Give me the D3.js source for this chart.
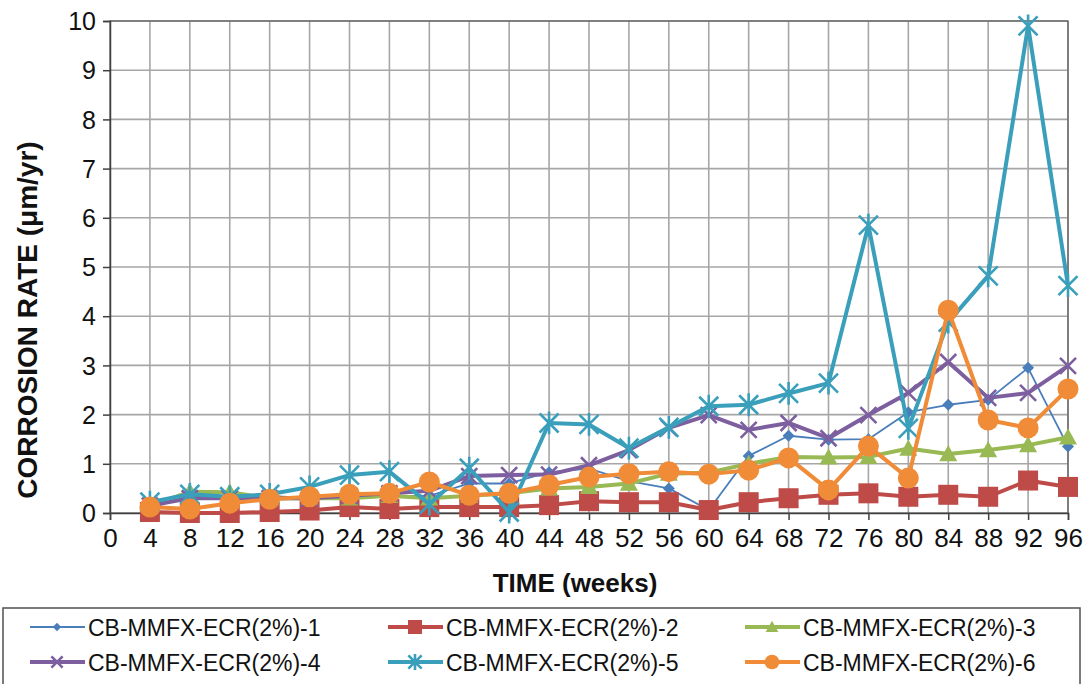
<!DOCTYPE html>
<html><head><meta charset="utf-8">
<script src="https://cdn.jsdelivr.net/npm/d3@7/dist/d3.min.js"></script>
<style>body{margin:0;background:#fff}svg{display:block;font-family:Arial,"Liberation Sans",sans-serif}</style>
</head><body><svg id="c" width="1086" height="684"></svg>
<script>
const weeks = [4,8,12,16,20,24,28,32,36,40,44,48,52,56,60,64,68,72,76,80,84,88,92,96];
const s1 = [0.10,0.35,0.30,0.35,0.30,0.30,0.35,0.35,0.60,0.60,0.83,0.90,0.65,0.50,0.06,1.16,1.57,1.49,1.50,2.05,2.20,2.30,2.95,1.35];
const s2 = [0.02,0.00,0.00,0.02,0.05,0.12,0.08,0.12,0.12,0.12,0.16,0.24,0.22,0.22,0.06,0.22,0.30,0.37,0.40,0.33,0.37,0.33,0.66,0.53];
const s3 = [0.15,0.43,0.42,0.30,0.30,0.30,0.35,0.30,0.35,0.40,0.50,0.53,0.60,0.80,0.82,1.00,1.14,1.13,1.14,1.31,1.20,1.28,1.38,1.54];
const s4 = [0.15,0.30,0.30,0.30,0.30,0.35,0.40,0.45,0.75,0.77,0.78,0.97,1.28,1.73,1.99,1.69,1.83,1.52,1.99,2.44,3.07,2.34,2.44,2.99];
const s5 = [0.22,0.38,0.33,0.38,0.53,0.77,0.84,0.18,0.91,0.02,1.83,1.80,1.32,1.74,2.17,2.20,2.43,2.64,5.85,1.72,3.88,4.82,9.90,4.62];
const s6 = [0.12,0.08,0.20,0.28,0.33,0.38,0.40,0.63,0.36,0.40,0.57,0.73,0.80,0.84,0.79,0.87,1.12,0.47,1.36,0.71,4.12,1.89,1.73,2.52];
const seriesNames = ["CB-MMFX-ECR(2%)-1","CB-MMFX-ECR(2%)-2","CB-MMFX-ECR(2%)-3","CB-MMFX-ECR(2%)-4","CB-MMFX-ECR(2%)-5","CB-MMFX-ECR(2%)-6"];
const xTicks = [0,4,8,12,16,20,24,28,32,36,40,44,48,52,56,60,64,68,72,76,80,84,88,92,96];
const yTicks = [0,1,2,3,4,5,6,7,8,9,10];

const colors = ["#4A7EBB","#BE4B48","#98B954","#7D5FA0","#3A9FBA","#F08B37"];
const widths = [1.8,4,4,4,4,4];
const markers = ["diamond","square","triangle","x","star","circle"];
const data = [s1,s2,s3,s4,s5,s6];

const svg = d3.select("#c");
const L=110,R=1068,T=21,B=513;
const x = d3.scaleLinear().domain([0,96]).range([L,R]);
const y = d3.scaleLinear().domain([0,10]).range([B,T]);

const g = svg.append("g");
g.selectAll(".gx").data(xTicks.slice(1)).enter().append("line")
 .attr("x1",d=>x(d)).attr("x2",d=>x(d)).attr("y1",T).attr("y2",B)
 .attr("stroke","#a6a6a6").attr("stroke-width",1.6);
g.selectAll(".gy").data(yTicks.slice(1)).enter().append("line")
 .attr("x1",L).attr("x2",R).attr("y1",d=>y(d)).attr("y2",d=>y(d))
 .attr("stroke","#a6a6a6").attr("stroke-width",1.6);
svg.append("rect").attr("x",L).attr("y",T).attr("width",R-L).attr("height",B-T)
 .attr("fill","none").attr("stroke","#595959").attr("stroke-width",1.2);

const yAxis = svg.append("g").attr("transform",`translate(${L},0)`)
 .call(d3.axisLeft(y).tickValues(yTicks).tickSize(7).tickPadding(7));
const xAxis = svg.append("g").attr("transform",`translate(0,${B})`)
 .call(d3.axisBottom(x).tickValues(xTicks).tickSize(7).tickPadding(7));
[yAxis,xAxis].forEach(a=>{
  a.selectAll("path,line").attr("stroke","#404040").attr("stroke-width",1.5);
  a.selectAll("text").attr("font-size",25).attr("fill","#111").attr("font-family","Arial,'Liberation Sans',sans-serif");
});
xAxis.selectAll("text").attr("dy","0.78em").attr("font-size",26);
yAxis.selectAll("text").attr("dy","0.35em");

svg.append("text").attr("x",575).attr("y",592).attr("text-anchor","middle")
 .attr("font-size",26).attr("font-weight","bold").attr("fill","#111").text("TIME (weeks)");
svg.append("text").attr("transform",`translate(37,320) rotate(-90)`).attr("text-anchor","middle")
 .attr("font-size",28).attr("font-weight","bold").attr("fill","#111").text("CORROSION RATE (μm/yr)");

function drawMarker(sel, type, color, s){
  if(type==="diamond") sel.append("path").attr("d",`M0,${-s}L${s},0L0,${s}L${-s},0Z`).attr("fill",color);
  else if(type==="square") sel.append("rect").attr("x",-s).attr("y",-s).attr("width",2*s).attr("height",2*s).attr("fill",color);
  else if(type==="triangle") sel.append("path").attr("d",`M0,${-s}L${s},${s*0.8}L${-s},${s*0.8}Z`).attr("fill",color);
  else if(type==="circle") sel.append("circle").attr("r",s).attr("fill",color);
  else if(type==="x") sel.append("path").attr("d",`M${-s},${-s}L${s},${s}M${-s},${s}L${s},${-s}`).attr("stroke",color).attr("stroke-width",2.6).attr("fill","none");
  else if(type==="star") sel.append("path").attr("d",`M${-s},${-s}L${s},${s}M${-s},${s}L${s},${-s}M0,${-s*1.2}L0,${s*1.2}`).attr("stroke",color).attr("stroke-width",2.6).attr("fill","none");
}
const msize = [6,10,9,8,9.5,10.5];

const line = d3.line().x((d,i)=>x(weeks[i])).y(d=>y(d));
data.forEach((vals,k)=>{
  svg.append("path").datum(vals).attr("d",line).attr("fill","none")
    .attr("stroke",colors[k]).attr("stroke-width",widths[k]).attr("stroke-linejoin","round");
  vals.forEach((v,i)=>{
    const m = svg.append("g").attr("transform",`translate(${x(weeks[i])},${y(v)})`);
    drawMarker(m,markers[k],colors[k],msize[k]);
  });
});

svg.append("rect").attr("x",3).attr("y",608).attr("width",1077).attr("height",90)
 .attr("fill","#fff").attr("stroke","#505050").attr("stroke-width",1.5);
const colX = [30,388,745], rowY = [627,662];
seriesNames.forEach((n,k)=>{
  const cx = colX[k%3], cy = rowY[Math.floor(k/3)];
  svg.append("line").attr("x1",cx).attr("x2",cx+55).attr("y1",cy).attr("y2",cy)
    .attr("stroke",colors[k]).attr("stroke-width",widths[k]);
  const m = svg.append("g").attr("transform",`translate(${cx+27},${cy})`);
  drawMarker(m,markers[k],colors[k],msize[k]*0.7);
  svg.append("text").attr("x",cx+58).attr("y",cy+8.5).attr("font-size",23).attr("fill","#111").text(n);
});
</script></body></html>
